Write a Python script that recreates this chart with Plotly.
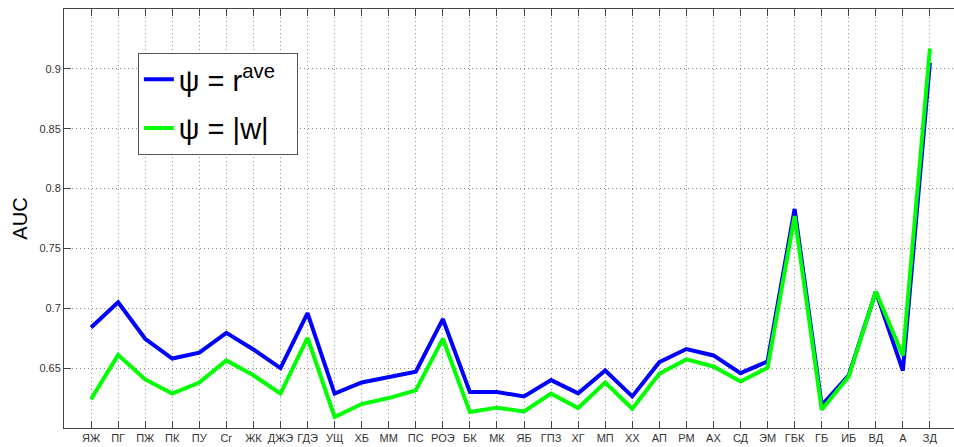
import plotly.graph_objects as go

categories = ["ЯЖ", "ПГ", "ПЖ", "ПК", "ПУ", "Сг", "ЖК", "ДЖЭ", "ГДЭ", "УЩ", "ХБ", "ММ",
              "ПС", "РОЭ", "БК", "МК", "ЯБ", "ГПЗ", "ХГ", "МП", "ХХ", "АП", "РМ", "АХ",
              "СД", "ЭМ", "ГБК", "ГБ", "ИБ", "ВД", "А", "ЗД"]

auc_rave = [0.684, 0.705, 0.6745, 0.658, 0.663, 0.6795, 0.6656, 0.650, 0.696, 0.6287,
            0.638, 0.6425, 0.647, 0.691, 0.630, 0.630, 0.6264, 0.640, 0.629, 0.648,
            0.6264, 0.655, 0.666, 0.6606, 0.6458, 0.6556, 0.783, 0.619, 0.644, 0.714,
            0.648, 0.905]

auc_w = [0.624, 0.661, 0.6406, 0.6287, 0.638, 0.6564, 0.644, 0.6287, 0.6753, 0.6092,
         0.620, 0.625, 0.6314, 0.6745, 0.6133, 0.617, 0.6139, 0.6287, 0.6167, 0.638,
         0.6161, 0.6453, 0.6573, 0.6514, 0.6389, 0.6503, 0.777, 0.6153, 0.643, 0.714,
         0.6606, 0.917]

y_ticks = [0.65, 0.7, 0.75, 0.8, 0.85, 0.9]
y_tick_text = ["0.65", "0.7", "0.75", "0.8", "0.85", "0.9"]

xs = list(range(1, len(categories) + 1))

fig = go.Figure()
fig.add_trace(go.Scatter(x=xs, y=auc_rave, mode="lines", name="ψ = r<sup>ave</sup>\u00a0\u00a0",
                         line=dict(color="#0000ff", width=4), legendgroup="a"))
fig.add_trace(go.Scatter(x=xs, y=auc_w, mode="lines", name="ψ = |w|",
                         line=dict(color="#00ff00", width=4), legendgroup="b"))

axis_color = "#444444"
grid_color = "#8c8c8c"
tick_font = dict(family="Liberation Sans, Arial, sans-serif", size=11, color="#333333")

fig.update_layout(
    width=954, height=447,
    margin=dict(l=64, r=0, t=9, b=19),
    paper_bgcolor="white", plot_bgcolor="white",
    showlegend=True,
    legend=dict(x=0.083, y=0.895, xanchor="left", yanchor="top",
                bgcolor="white", bordercolor="#555555", borderwidth=1,
                font=dict(family="Liberation Sans, Arial, sans-serif", size=29, color="black"),
                traceorder="grouped", tracegroupgap=8),
    xaxis=dict(range=[0, 32.89], tickmode="array", tickvals=xs, ticktext=categories,
               showline=True, linecolor=axis_color, linewidth=1, mirror="ticks",
               ticks="inside", ticklen=7, tickcolor=axis_color,
               showgrid=True, gridcolor=grid_color, griddash="1px,3px", gridwidth=1,
               zeroline=False, tickfont=tick_font, tickangle=0),
    yaxis=dict(range=[0.6, 0.95], tickmode="array", tickvals=y_ticks, ticktext=y_tick_text,
               showline=True, linecolor=axis_color, linewidth=1, mirror=False,
               ticks="inside", ticklen=7, tickcolor=axis_color,
               showgrid=True, gridcolor=grid_color, griddash="1px,3px", gridwidth=1,
               zeroline=False, tickfont=tick_font,
               title=dict(text="AUC", font=dict(family="Liberation Sans, Arial, sans-serif",
                                                 size=20, color="black"), standoff=6)),
    yaxis2=dict(range=[0.6, 0.95], overlaying="y", side="right", tickmode="array",
                tickvals=y_ticks, showticklabels=False, ticks="inside", ticklen=7,
                tickcolor=axis_color, showgrid=False, showline=False, zeroline=False),
)

fig.write_html("out.html")
